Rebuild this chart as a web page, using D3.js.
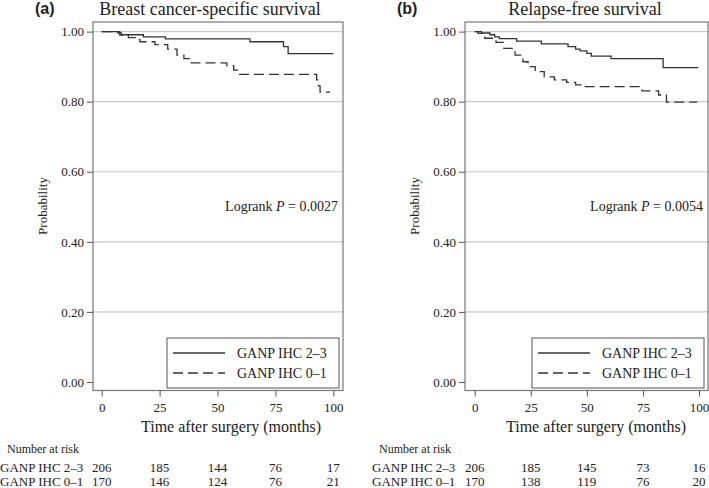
<!DOCTYPE html>
<html>
<head>
<meta charset="utf-8">
<script src="https://cdn.jsdelivr.net/npm/d3@7"></script>
<style>
  html, body { margin: 0; padding: 0; background: #fff; }
  svg { display: block; }
  text { font-family: "Liberation Serif", "Times New Roman", serif; fill: #222; }
</style>
</head>
<body>
<svg id="chart" width="709" height="488"></svg>
<script>
// ---------------- data ----------------
const groups = ["GANP IHC 2–3", "GANP IHC 0–1"];
const panelLetters = ["(a)", "(b)"];
const panelTitles = ["Breast cancer-specific survival", "Relapse-free survival"];
const pValues = ["0.0027", "0.0054"];
const timeTicks = [0, 25, 50, 75, 100];
const probTicks = [0, 0.2, 0.4, 0.6, 0.8, 1.0];

// Panel (a): breast cancer-specific survival
const bcssHighTime = [0, 7, 8.5, 18, 27.5, 64, 78.5, 80.5];
const bcssHighSurv = [1.0, 0.996, 0.991, 0.985, 0.979, 0.971, 0.957, 0.937];
const bcssHighEnd = 100;
const bcssLowTime = [0, 7.8, 11.5, 14.5, 16.5, 23, 28.5, 32.5, 35.5, 38, 54, 57, 59, 92.8, 93.6, 94.3];
const bcssLowSurv = [1.0, 0.990, 0.983, 0.977, 0.971, 0.963, 0.950, 0.933, 0.923, 0.911, 0.903, 0.890, 0.878, 0.862, 0.845, 0.827];
const bcssLowEnd = 98.6;
const bcssRiskHigh = [206, 185, 144, 76, 17];
const bcssRiskLow = [170, 146, 124, 76, 21];

// Panel (b): relapse-free survival
const rfsHighTime = [0, 3, 6.8, 8.9, 11, 18.7, 29.7, 41.6, 45, 47, 50, 52, 60.8, 84];
const rfsHighSurv = [1.0, 0.996, 0.991, 0.985, 0.980, 0.973, 0.965, 0.957, 0.950, 0.945, 0.938, 0.930, 0.923, 0.897];
const rfsHighEnd = 99.7;
const rfsLowTime = [0, 1.5, 4.5, 9.5, 13, 18, 21.5, 23.8, 27, 31, 35.5, 41, 45, 49, 74.5, 82, 85.5];
const rfsLowSurv = [1.0, 0.995, 0.981, 0.969, 0.952, 0.933, 0.914, 0.900, 0.886, 0.871, 0.862, 0.855, 0.848, 0.843, 0.831, 0.819, 0.799];
const rfsLowEnd = 99.2;
const rfsRiskHigh = [206, 185, 145, 73, 16];
const rfsRiskLow = [170, 138, 119, 76, 20];

// ---------------- layout ----------------
const panels = [
  { box: [93, 343], xr: [101.7, 333.3], letterX: 35, titleX: 210, xTitleX: 231,
    probX: 43, tableLabelX: 0, riskHeadX: 7,
    curves: [[bcssHighTime, bcssHighSurv, bcssHighEnd], [bcssLowTime, bcssLowSurv, bcssLowEnd]],
    risk: [bcssRiskHigh, bcssRiskLow] },
  { box: [465, 708], xr: [474.7, 699], letterX: 397, titleX: 585, xTitleX: 596,
    probX: 415, tableLabelX: 372, riskHeadX: 379,
    curves: [[rfsHighTime, rfsHighSurv, rfsHighEnd], [rfsLowTime, rfsLowSurv, rfsLowEnd]],
    risk: [rfsRiskHigh, rfsRiskLow] }
];
const boxTop = 22, boxBottom = 390.5;
const yRange = [382, 31.6];
const dashes = [null, "10,5"];
const curveColor = "#333";

const svg = d3.select("#chart");

panels.forEach((p, i) => {
  const x = d3.scaleLinear().domain([0, 100]).range(p.xr);
  const y = d3.scaleLinear().domain([0, 1]).range(yRange);
  const g = svg.append("g");

  // gridlines
  g.selectAll("line.grid").data(probTicks.filter(d => d > 0)).enter().append("line")
    .attr("x1", p.box[0]).attr("x2", p.box[1])
    .attr("y1", d => y(d)).attr("y2", d => y(d))
    .attr("stroke", "#c9c9c9").attr("stroke-width", 1.2);

  // frame
  g.append("rect")
    .attr("x", p.box[0]).attr("y", boxTop)
    .attr("width", p.box[1] - p.box[0]).attr("height", boxBottom - boxTop)
    .attr("fill", "none").attr("stroke", "#777").attr("stroke-width", 1.2);

  // y axis
  const yAxis = d3.axisLeft(y).tickValues(probTicks).tickFormat(d3.format(".2f"))
    .tickSize(6).tickPadding(3);
  const ya = g.append("g").attr("transform", `translate(${p.box[0]},0)`).call(yAxis);
  ya.select(".domain").remove();
  ya.selectAll(".tick line").attr("stroke", "#555");
  ya.selectAll(".tick text").attr("font-family", "Liberation Serif").attr("font-size", 13).attr("fill", "#222");

  // x axis
  const xAxis = d3.axisBottom(x).tickValues(timeTicks).tickSize(6).tickPadding(6);
  const xa = g.append("g").attr("transform", `translate(0,${boxBottom})`).call(xAxis);
  xa.select(".domain").remove();
  xa.selectAll(".tick line").attr("stroke", "#555");
  xa.selectAll(".tick text").attr("font-family", "Liberation Serif").attr("font-size", 13).attr("fill", "#222");

  // titles
  g.append("text").attr("x", p.letterX).attr("y", 14)
    .style("font-family", "'Liberation Sans', Arial, sans-serif").style("font-weight", "bold")
    .attr("font-size", 16).text(panelLetters[i]);
  g.append("text").attr("x", p.titleX).attr("y", 15).attr("text-anchor", "middle")
    .attr("font-size", 18).text(panelTitles[i]);

  g.append("text").attr("x", p.xTitleX).attr("y", 432).attr("text-anchor", "middle")
    .attr("font-size", 16).text("Time after surgery (months)");
  g.append("text").attr("transform", `translate(${p.probX + 4},206) rotate(-90)`)
    .attr("text-anchor", "middle").attr("font-size", 13).text("Probability");

  // logrank
  const lr = g.append("text").attr("x", p.box[1] - 5).attr("y", 211)
    .attr("text-anchor", "end").attr("font-size", 14);
  lr.append("tspan").text("Logrank ");
  lr.append("tspan").attr("font-style", "italic").text("P");
  lr.append("tspan").text(" = " + pValues[i]);

  // curves
  const line = d3.line().x(d => x(d[0])).y(d => y(d[1])).curve(d3.curveStepAfter);
  p.curves.forEach((c, k) => {
    const [t, s, end] = c;
    const pts = t.map((tt, j) => [tt, s[j]]);
    pts.push([end, s[s.length - 1]]);
    g.append("path").datum(pts).attr("d", line)
      .attr("fill", "none").attr("stroke", curveColor).attr("stroke-width", 1.3)
      .attr("stroke-dasharray", dashes[k]);
  });

  // legend
  const lx = p.box[1] - 176, lRight = p.box[1] - 4;
  g.append("rect").attr("x", lx).attr("y", 338).attr("width", lRight - lx).attr("height", 50)
    .attr("fill", "#fff").attr("stroke", "#555").attr("stroke-width", 1);
  groups.forEach((name, k) => {
    const ly = 353 + k * 20;
    g.append("line").attr("x1", lx + 6).attr("x2", lx + 58).attr("y1", ly).attr("y2", ly)
      .attr("stroke", curveColor).attr("stroke-width", 1.3).attr("stroke-dasharray", dashes[k]);
    g.append("text").attr("x", lx + 70).attr("y", ly + 5).attr("font-size", 14).text(name);
  });

  // number at risk table
  g.append("text").attr("x", p.riskHeadX).attr("y", 453).attr("font-size", 12).text("Number at risk");
  groups.forEach((name, k) => {
    const ry = 471.5 + k * 14.5;
    g.append("text").attr("x", p.tableLabelX).attr("y", ry).attr("font-size", 13).text(name);
    g.selectAll(null).data(p.risk[k]).enter().append("text")
      .attr("x", (d, j) => x(timeTicks[j])).attr("y", ry)
      .attr("text-anchor", "middle").attr("font-size", 13).text(d => d);
  });
});
</script>
</body>
</html>
